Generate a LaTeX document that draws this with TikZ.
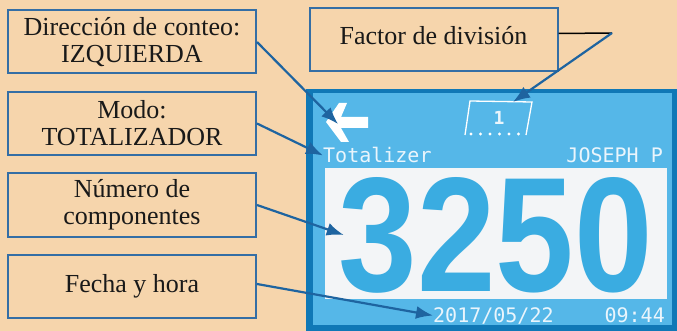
\documentclass[tikz,border=0pt]{standalone}
\usepackage{fontspec}
\setmainfont{Liberation Serif}
\newfontfamily\lcdfont{DejaVu Sans Mono}
\newfontfamily\digitfont{Liberation Sans}
\usetikzlibrary{arrows.meta, positioning}

\definecolor{peach}{HTML}{F6D5AC}
\definecolor{boxblue}{HTML}{346EA5}
\definecolor{arrowblue}{HTML}{1E64A0}
\definecolor{screendark}{HTML}{1078B6}
\definecolor{screenlight}{HTML}{55B7E8}
\definecolor{digitblue}{HTML}{3AACE1}
\definecolor{lcdwhite}{HTML}{F3F5F7}
\definecolor{lcdtext}{HTML}{EAF5FC}

\begin{document}
\begin{tikzpicture}[
  x=1pt, y=-1pt,
  every node/.style={font=\fontsize{26}{27}\selectfont, align=center, text=black!90},
  label box/.style={rectangle, draw=boxblue, line width=2pt, fill=peach, inner sep=0pt, minimum width=248pt, minimum height=63pt},
  pointer/.style={draw=arrowblue, line width=2.2pt, -{Latex[length=17pt, width=13pt]}},
  lcd text/.style={font=\lcdfont\fontsize{20}{20}\selectfont, text=lcdtext, inner sep=0pt}
]

% background and display
\fill[peach] (0,0) rectangle (677,331);
\useasboundingbox (0,0) rectangle (677,331);
\fill[screendark] (306,89) rectangle (677,331);
\fill[screenlight] (313,93) rectangle (672,325);
\fill[lcdwhite] (325,168) rectangle (667,299);

% back arrow icon
\fill[white] (326,122) -- (339,103) -- (347,103) -- (341,117) -- (368,117) -- (368,128)
  -- (341,128) -- (349,142) -- (341,142) -- cycle;
\coordinate (backtip) at (338,124);

% division factor icon
\draw[white, line width=1.3pt] (465,135) -- (470,101) -- (532,102) -- (526,135);
\foreach \i in {0,...,5}
  \fill[white] (471+\i*9.5,134) circle (1.6);
\node[lcd text, font=\lcdfont\bfseries\fontsize{18}{18}\selectfont] (lcdfactor) at (499,118) {1};
\coordinate (factortip) at (513,102);
\coordinate (bend) at (612,33);

% display texts
\node[lcd text, anchor=base west] (lcdmode) at (323,163) {Totalizer};
\node[lcd text, anchor=base east] (lcduser) at (663,163) {JOSEPH P};
\node[inner sep=0pt, text=digitblue] (lcdcount) at (496,235)
  {\resizebox{314pt}{114pt}{\digitfont\bfseries 3250}};
\node[lcd text, anchor=base west] (lcddate) at (433,322) {2017/05/22};
\node[lcd text, anchor=base east] (lcdtime) at (665,322) {09:44};

% label boxes
\node[label box] (dir) at (132,42) {Dirección de conteo:\\IZQUIERDA};
\node[label box, below=16.5pt of dir] (mode) {Modo:\\TOTALIZADOR};
\node[label box, below=16.5pt of mode] (count) {Número de\\componentes};
\node[label box, below=16.5pt of count] (date) {Fecha y hora};
\node[label box, text depth=9pt] (factor) at (433.5,39.5) {Factor de división};

% pointers
\draw[pointer] (dir.east) -- (backtip);
\draw[pointer] (mode.east) -- (lcdmode.west);
\draw[pointer] (count.east) -- ([xshift=5pt]lcdcount.west);
\draw[pointer] ([yshift=2.5pt]date.east) -- (lcddate.west);
\draw[black, line width=1.5pt] ([yshift=6pt]factor.east) -- (bend);
\draw[pointer] (bend) -- (factortip);

\end{tikzpicture}
\end{document}
